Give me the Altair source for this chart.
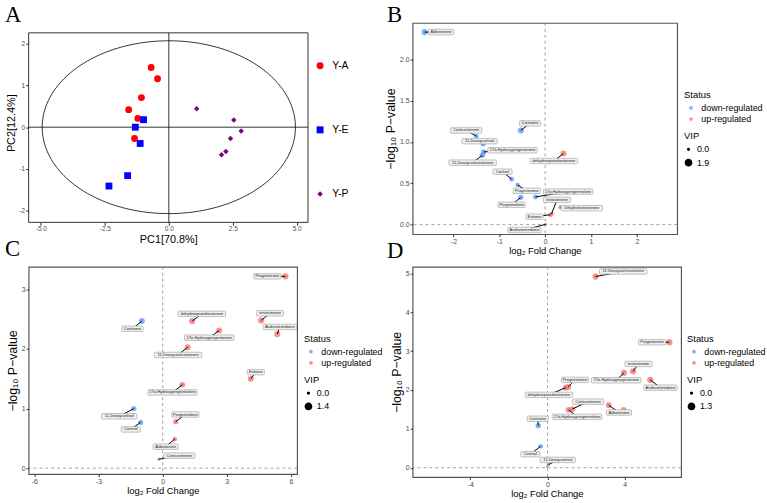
import altair as alt
import pandas as pd
import numpy as np

FONT = "Liberation Sans"
SERIF = "Liberation Serif"
BLUE, RED = "#619CFF", "#F8766D"

# ---------------- Panel A: PCA ----------------
pca_group = ["Y-A"] * 6 + ["Y-E"] * 5 + ["Y-P"] * 6
pca_pc1 = [-0.69, -0.44, -1.07, -1.57, -1.21, -1.34,
           -0.99, -1.31, -1.12, -1.61, -2.34,
           1.09, 2.54, 2.83, 2.41, 2.23, 2.06]
pca_pc2 = [1.43, 1.16, 0.71, 0.42, 0.21, -0.27,
           0.18, 0.00, -0.39, -1.16, -1.41,
           0.44, 0.17, -0.09, -0.27, -0.58, -0.66]
ellipse_rx, ellipse_ry = 4.95, 2.07
pca_xlim = [-5.48, 5.44]
pca_ylim = [-2.28, 2.26]

# ---------------- Panel B ----------------
b_names = ["Aldosterone", "Cortisone", "Corticosterone", "11-Deoxycortisol",
           "17α-Hydroxyprogesterone", "11-Deoxycorticosterone", "dehydroepiandrosterone",
           "Cortisol", "Progesterone", "17α-Hydroxypregnenolone", "Pregnenolone",
           "testosterone", "Estrone", "Dihydrotestosterone", "Androstenedione"]
b_fc = [-2.63, -0.53, -1.50, -1.35, -1.34, -1.37, 0.40, -0.73, -0.60, -0.21, -0.53, 0.14, 0.115, 0.34, 0.01]
b_p = [2.33, 1.14, 1.07, 0.98, 0.88, 0.84, 0.86, 0.55, 0.48, 0.335, 0.33, 0.13, 0.12, 0.21, 0.004]
b_vip = [1.9, 1.8, 1.0, 1.3, 1.3, 1.4, 1.7, 1.1, 0.9, 1.1, 1.4, 0.8, 0.9, 0.9, 0.4]
b_lx = [-2.27, -0.33, -1.72, -1.43, -0.71, -1.58, 0.19, -0.93, -0.40, 0.50, -0.73, 0.26, -0.23, 0.80, -0.45]
b_ly = [2.33, 1.225, 1.14, 1.01, 0.90, 0.75, 0.77, 0.64, 0.41, 0.40, 0.24, 0.30, 0.096, 0.20, -0.064]

# ---------------- Panel C ----------------
c_names = ["Progesterone", "testosterone", "Androstenedione", "dehydroepiandrosterone",
           "17α-Hydroxyprogesterone", "11-Deoxycorticosterone", "Estrone",
           "17α-Hydroxypregnenolone", "Cortisone", "11-Deoxycortisol", "Cortisol",
           "Pregnenolone", "Aldosterone", "Corticosterone"]
c_fc = [5.74, 4.61, 5.36, 1.38, 2.64, 1.17, 4.12, 0.92, -0.97, -1.35, -1.03, 0.61, 0.57, -0.18]
c_p = [3.22, 2.48, 2.25, 2.47, 2.31, 2.03, 1.50, 1.40, 2.47, 1.00, 0.77, 0.78, 0.49, 0.15]
c_vip = [1.4, 1.35, 1.35, 1.35, 1.3, 1.25, 1.3, 1.1, 1.2, 0.95, 0.95, 0.95, 0.7, 0.2]
c_lx = [4.90, 5.02, 5.48, 1.83, 2.18, 0.72, 4.36, 0.46, -1.41, -2.03, -1.49, 1.06, 0.14, 0.78]
c_ly = [3.22, 2.60, 2.37, 2.59, 2.19, 1.90, 1.61, 1.27, 2.34, 0.87, 0.65, 0.90, 0.36, 0.21]

# ---------------- Panel D ----------------
d_names = ["11-Deoxycorticosterone", "Progesterone", "testosterone", "17α-Hydroxyprogesterone",
           "Androstenedione", "Pregnenolone", "dehydroepiandrosterone", "Corticosterone",
           "17α-Hydroxypregnenolone", "Aldosterone", "Estrone", "Cortisone", "Cortisol",
           "11-Deoxycortisol", "Dihydrotestosterone"]
d_show = [1, 1, 1, 1, 1, 1, 1, 1, 1, 1, 0, 1, 1, 1, 0]
d_fc = [2.49, 6.31, 4.43, 3.96, 5.32, 1.07, 0.94, 1.28, 1.09, 3.17, 3.94, -0.48, -0.36, 0.05, -0.03]
d_p = [4.92, 3.23, 2.48, 2.44, 2.26, 2.08, 2.06, 1.51, 1.49, 1.61, 1.49, 1.08, 0.55, 0.08, 0.03]
d_vip = [1.3, 1.3, 1.25, 1.25, 1.25, 1.2, 1.2, 1.1, 1.1, 1.05, 1.0, 0.95, 0.7, 0.3, 0.15]
d_lx = [3.92, 5.42, 4.71, 3.56, 5.85, 1.42, 0.07, 2.10, 1.53, 3.70, None, -0.51, -0.89, 0.53, None]
d_ly = [5.05, 3.23, 2.67, 2.25, 2.06, 2.26, 1.875, 1.70, 1.31, 1.42, None, 1.26, 0.35, 0.20, None]


def fix_minus():
    return "replace(datum.label, '\u2212', '-')"


def letter_mark(letter, px, py):
    return alt.Chart(pd.DataFrame({"t": [letter]})).mark_text(
        font=SERIF, fontSize=23, align="left", baseline="alphabetic", color="black"
    ).encode(x=alt.value(px), y=alt.value(py), text="t:N")


# ---------------- build panel A ----------------
def make_pca():
    w, h_box, top_gap = 283, 192, 10
    ppy = h_box / (pca_ylim[1] - pca_ylim[0])
    xs = alt.Scale(domain=pca_xlim, nice=False, zero=False)
    ys = alt.Scale(domain=[pca_ylim[0], pca_ylim[1] + top_gap / ppy], nice=False, zero=False)
    xa = alt.Axis(title="PC1[70.8%]", values=[-5, -2.5, 0, 2.5, 5], format=".1f",
                  labelExpr=fix_minus(), titlePadding=1, labelPadding=0.5, tickSize=3,
                  labelFontSize=6.5, titleFontSize=11)
    ya = alt.Axis(title="PC2[12.4%]", values=[-2, -1, 0, 1, 2], format="d",
                  labelExpr=fix_minus(), titlePadding=3, labelPadding=1, tickSize=3,
                  labelFontSize=6.5, titleFontSize=11)
    df = pd.DataFrame({"pc1": pca_pc1, "pc2": pca_pc2, "group": pca_group})
    frame_df = pd.DataFrame({"x1": [pca_xlim[0]], "x2": [pca_xlim[1]],
                             "y1": [pca_ylim[0]], "y2": [pca_ylim[1]], "z": [0.0]})
    frame = alt.Chart(frame_df).mark_rect(fill=None, stroke="#333333", strokeWidth=1).encode(
        x=alt.X("x1:Q", scale=xs, axis=xa), x2="x2:Q",
        y=alt.Y("y1:Q", scale=ys, axis=ya), y2="y2:Q")
    vline = alt.Chart(frame_df).mark_rule(color="black", strokeWidth=0.8).encode(
        x=alt.X("z:Q", scale=xs, axis=xa), y=alt.Y("y1:Q", scale=ys, axis=ya), y2="y2:Q")
    hline = alt.Chart(frame_df).mark_rule(color="black", strokeWidth=0.8).encode(
        y=alt.Y("z:Q", scale=ys, axis=ya), x=alt.X("x1:Q", scale=xs, axis=xa), x2="x2:Q")
    ell = alt.Chart(alt.sequence(0, 362, 2, as_="t")).transform_calculate(
        ex=f"{ellipse_rx}*cos(datum.t*PI/180)", ey=f"{ellipse_ry}*sin(datum.t*PI/180)"
    ).mark_line(color="black", strokeWidth=0.8).encode(
        x=alt.X("ex:Q", scale=xs, axis=xa), y=alt.Y("ey:Q", scale=ys, axis=ya), order="t:Q")
    leg = alt.Legend(title=None, orient="none", legendX=290, legendY=38, rowPadding=54,
                     labelFontSize=10.5, symbolSize=50, labelOffset=7, symbolOffset=0,
                     labelColor="black")
    pts = alt.Chart(df).mark_point(filled=True, size=48, opacity=1).encode(
        x=alt.X("pc1:Q", scale=xs, axis=xa),
        y=alt.Y("pc2:Q", scale=ys, axis=ya),
        color=alt.Color("group:N", scale=alt.Scale(domain=["Y-A", "Y-E", "Y-P"],
                                                   range=["#FF0000", "#0000FF", "#800080"]), legend=leg),
        shape=alt.Shape("group:N", scale=alt.Scale(domain=["Y-A", "Y-E", "Y-P"],
                                                   range=["circle", "square", "M0,-0.8L0.8,0L0,0.8L-0.8,0Z"]),
                        legend=leg),
    )
    return alt.layer(frame, vline, hline, ell, pts, letter_mark("A", -24, -1)).properties(
        width=w, height=h_box + top_gap)


# ---------------- build volcano ----------------
def make_volcano(names, show, fc, p, vip, lx, ly, xdom, ydom, w, h, xvals, yvals, yfmt,
                 letter, lpx, lpy, legx):
    df = pd.DataFrame({"name": names, "show": show, "fc": fc, "p": p, "vip": vip,
                       "lx": lx, "ly": ly})
    df["status"] = np.where(df["fc"] > 0, "up-regulated", "down-regulated")
    vmax = max(vip)
    ppx = w / (xdom[1] - xdom[0])
    ppy = h / (ydom[1] - ydom[0])
    lab = df[df["show"] == 1].copy()
    half_w = (lab["name"].str.len() * 2.05 + 3) / 2
    lab["bx1"] = lab["lx"] - half_w / ppx
    lab["bx2"] = lab["lx"] + half_w / ppx
    lab["by1"] = lab["ly"] - 2.8 / ppy
    lab["by2"] = lab["ly"] + 2.8 / ppy

    xs = alt.Scale(domain=xdom, nice=False, zero=False)
    ys = alt.Scale(domain=ydom, nice=False, zero=False)
    xa = alt.Axis(title="log\u2082 Fold Change", values=xvals, format="d",
                  labelExpr=fix_minus(), titlePadding=1.5, labelPadding=1,
                  tickSize=2.5, labelFontSize=7, titleFontSize=9.5)
    ya = alt.Axis(title="\u2212log\u2081\u2080 P\u2212value", values=yvals,
                  format=yfmt, titlePadding=2, labelPadding=1,
                  tickSize=2.5, labelFontSize=7, titleFontSize=12.5)
    zero = pd.DataFrame({"v": [0.0]})
    dash = dict(color="#8a8a8a", strokeWidth=0.8, strokeDash=[3, 3])
    vline = alt.Chart(zero).mark_rule(**dash).encode(x=alt.X("v:Q", scale=xs, axis=xa))
    hline = alt.Chart(zero).mark_rule(**dash).encode(y=alt.Y("v:Q", scale=ys, axis=ya))

    pts = alt.Chart(df).mark_circle(opacity=0.8, color="black").encode(
        x=alt.X("fc:Q", scale=xs, axis=xa),
        y=alt.Y("p:Q", scale=ys, axis=ya),
        color=alt.Color("status:N", scale=alt.Scale(domain=["down-regulated", "up-regulated"],
                                                    range=[BLUE, RED]),
                        legend=alt.Legend(title="Status", orient="none", legendX=legx, legendY=68,
                                          symbolType="circle", symbolSize=14, symbolOffset=2.5,
                                          labelOffset=6, rowPadding=1.3, titlePadding=4)),
        size=alt.Size("vip:Q", scale=alt.Scale(domain=[0, vmax], range=[3, 40]),
                      legend=alt.Legend(title="VIP", orient="none", legendX=legx, legendY=110,
                                        values=[0, vmax], format=".1f", symbolFillColor="black",
                                        symbolStrokeColor="black", symbolOpacity=1, symbolOffset=0,
                                        labelOffset=4, rowPadding=1.5, titlePadding=4)),
    )
    seg = alt.Chart(lab).mark_rule(color="black", strokeWidth=1).encode(
        x=alt.X("fc:Q", scale=xs, axis=xa), y=alt.Y("p:Q", scale=ys, axis=ya),
        x2="lx:Q", y2="ly:Q")
    box = alt.Chart(lab).mark_rect(fill="#eeeeee", stroke="#8c8c8c", strokeWidth=0.5,
                                   cornerRadius=1).encode(
        x=alt.X("bx1:Q", scale=xs, axis=xa), x2="bx2:Q",
        y=alt.Y("by1:Q", scale=ys, axis=ya), y2="by2:Q")
    txt = alt.Chart(lab).mark_text(fontSize=4, font=FONT, color="#222222", align="center",
                                   baseline="middle").encode(
        x=alt.X("lx:Q", scale=xs, axis=xa), y=alt.Y("ly:Q", scale=ys, axis=ya), text="name:N")
    return alt.layer(vline, hline, pts, seg, box, txt, letter_mark(letter, lpx, lpy)).properties(
        width=w, height=h, view=alt.ViewBackground(stroke="#555555", strokeWidth=1.2))


A = make_pca()
B = make_volcano(b_names, [1] * len(b_names), b_fc, b_p, b_vip, b_lx, b_ly,
                 [-2.89, 2.88], [-0.116, 2.44], 268, 214, [-2, -1, 0, 1, 2],
                 [0, 0.5, 1, 1.5, 2], ".1f", "B", -26, -1, 275)
C = make_volcano(c_names, [1] * len(c_names), c_fc, c_p, c_vip, c_lx, c_ly,
                 [-6.27, 6.29], [-0.10, 3.38], 272, 210, [-6, -3, 0, 3, 6],
                 [0, 1, 2, 3], "d", "C", -24, -11, 279)
D = make_volcano(d_names, d_show, d_fc, d_p, d_vip, d_lx, d_ly,
                 [-6.99, 6.92], [-0.24, 5.17], 272, 213, [-4, 0, 4],
                 [0, 1, 2, 3, 4, 5], "d", "D", -26, -9, 278)

ind_s = dict(x="independent", y="independent", color="independent", size="independent",
             shape="independent")
ind_l = dict(color="independent", size="independent", shape="independent")

col1 = alt.vconcat(A, C, spacing=45, bounds="flush").resolve_scale(**ind_s).resolve_legend(**ind_l)
col2 = alt.vconcat(B, D, spacing=33, bounds="flush").resolve_scale(**ind_s).resolve_legend(**ind_l)

chart = alt.hconcat(col1, col2, spacing=0).resolve_scale(**ind_s).resolve_legend(**ind_l).properties(
    padding={"left": 4, "top": 0, "right": 0, "bottom": 0}
).configure(font=FONT).configure_axis(
    grid=False, domain=False, labelFont=FONT, titleFont=FONT, labelColor="#4d4d4d",
    tickColor="#333333", titleColor="black", titleFontWeight="normal"
).configure_legend(
    labelFont=FONT, titleFont=FONT, titleFontSize=9.5, labelFontSize=9, titleFontWeight="normal",
    titleColor="black", labelColor="black", padding=0
).configure_view(stroke=None)

chart.save("out.html", embed_options={"renderer": "svg", "actions": False})
